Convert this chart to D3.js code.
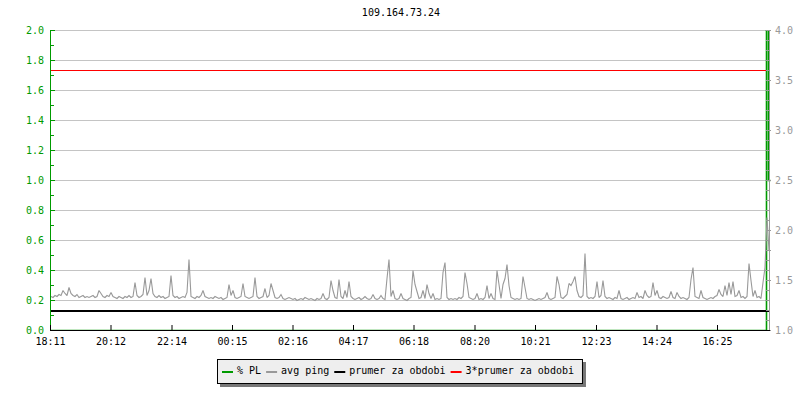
<!DOCTYPE html>
<html><head><meta charset="utf-8">
<script src="https://cdn.jsdelivr.net/npm/d3@7"></script>
<style>
body{margin:0;background:#fff;}
svg{display:block;}
text{font-family:"DejaVu Sans Mono",monospace;font-size:10px;}
</style></head><body>
<svg id="chart" width="800" height="400"></svg>
<script>
const title = "109.164.73.24";
const startTime = "18:11";
const spanMinutes = 1440;
const stepMinutes = 4;
const tickLabels = ["18:11","20:12","22:14","00:15","02:16","04:17","06:18","08:20","10:21","12:23","14:24","16:25"];
const leftTicks = [0.0,0.2,0.4,0.6,0.8,1.0,1.2,1.4,1.6,1.8,2.0];
const leftMinorTicks = [0.1,0.3,0.5,0.7,0.9,1.1,1.3,1.5,1.7,1.9];
const rightTicks = [1.0,1.5,2.0,2.5,3.0,3.5,4.0];
const rightMinorTicks = [1.1,1.2,1.3,1.4,1.5,1.6,1.7,1.8,1.9,2.0,2.1,2.2,2.3,2.4,2.5,2.6,2.7,2.8,2.9,3.0,3.1,3.2,3.3,3.4,3.5,3.6,3.7,3.8,3.9];
const legendLabels = ["% PL","avg ping","prumer za obdobi","3*prumer za obdobi"];

// avg ping (right axis), one value per 4 minutes
const avgPing = [
1.34,1.33,1.35,1.34,1.36,1.35,1.40,1.37,1.35,1.43,
1.37,1.35,1.34,1.36,1.33,1.34,1.35,1.33,1.34,1.33,
1.34,1.35,1.33,1.34,1.40,1.37,1.34,1.33,1.35,1.34,
1.38,1.34,1.33,1.32,1.34,1.33,1.32,1.34,1.33,1.35,
1.33,1.34,1.48,1.35,1.33,1.34,1.36,1.53,1.35,1.40,
1.52,1.37,1.34,1.33,1.35,1.33,1.34,1.32,1.33,1.34,
1.55,1.35,1.33,1.34,1.32,1.33,1.34,1.33,1.38,1.71,
1.34,1.33,1.32,1.34,1.33,1.35,1.40,1.34,1.33,1.32,
1.33,1.32,1.34,1.33,1.32,1.33,1.31,1.32,1.33,1.46,
1.35,1.40,1.33,1.32,1.33,1.34,1.47,1.34,1.33,1.32,
1.33,1.34,1.53,1.34,1.32,1.33,1.34,1.42,1.33,1.35,
1.47,1.40,1.33,1.32,1.33,1.36,1.32,1.31,1.32,1.33,
1.32,1.31,1.32,1.30,1.31,1.32,1.31,1.33,1.32,1.31,
1.32,1.31,1.30,1.32,1.31,1.32,1.37,1.32,1.31,1.33,
1.50,1.40,1.33,1.32,1.51,1.34,1.32,1.40,1.33,1.49,
1.34,1.32,1.31,1.32,1.33,1.31,1.32,1.34,1.32,1.31,
1.32,1.36,1.32,1.31,1.32,1.35,1.32,1.31,1.52,1.71,
1.34,1.40,1.32,1.31,1.32,1.37,1.32,1.31,1.30,1.32,
1.33,1.60,1.46,1.39,1.32,1.33,1.40,1.32,1.46,1.37,
1.32,1.37,1.31,1.32,1.31,1.32,1.58,1.68,1.33,1.31,
1.32,1.31,1.32,1.31,1.33,1.32,1.34,1.58,1.47,1.33,
1.32,1.31,1.32,1.37,1.31,1.32,1.31,1.33,1.45,1.32,
1.37,1.32,1.31,1.60,1.46,1.32,1.46,1.52,1.66,1.45,
1.33,1.32,1.31,1.32,1.31,1.32,1.54,1.43,1.32,1.31,
1.32,1.31,1.30,1.31,1.32,1.31,1.32,1.33,1.38,1.32,
1.31,1.32,1.33,1.54,1.46,1.33,1.32,1.34,1.36,1.47,
1.45,1.49,1.54,1.40,1.34,1.33,1.35,1.77,1.34,1.32,
1.33,1.32,1.34,1.49,1.33,1.35,1.50,1.34,1.32,1.33,
1.32,1.31,1.33,1.32,1.40,1.32,1.31,1.32,1.33,1.31,
1.32,1.33,1.32,1.38,1.33,1.34,1.32,1.40,1.35,1.33,
1.34,1.48,1.35,1.40,1.33,1.32,1.34,1.33,1.32,1.33,
1.39,1.33,1.32,1.38,1.34,1.32,1.33,1.32,1.31,1.33,
1.51,1.63,1.34,1.33,1.32,1.40,1.33,1.32,1.31,1.32,
1.33,1.32,1.34,1.35,1.41,1.36,1.34,1.45,1.35,1.48,
1.36,1.49,1.34,1.35,1.40,1.33,1.34,1.32,1.34,1.67,
1.50,1.34,1.40,1.33,1.34,1.32,1.48,1.63,2.13,1.80
];

// % packet loss (left axis), one value per 4 minutes
const plLoss = [
0,0,0,0,0,0,0,0,0,0,0,0,0,0,0,0,0,0,0,0,0,0,0,0,0,0,0,0,0,0,0,0,0,0,0,0,0,0,0,0,
0,0,0,0,0,0,0,0,0,0,0,0,0,0,0,0,0,0,0,0,0,0,0,0,0,0,0,0,0,0,0,0,0,0,0,0,0,0,0,0,
0,0,0,0,0,0,0,0,0,0,0,0,0,0,0,0,0,0,0,0,0,0,0,0,0,0,0,0,0,0,0,0,0,0,0,0,0,0,0,0,
0,0,0,0,0,0,0,0,0,0,0,0,0,0,0,0,0,0,0,0,0,0,0,0,0,0,0,0,0,0,0,0,0,0,0,0,0,0,0,0,
0,0,0,0,0,0,0,0,0,0,0,0,0,0,0,0,0,0,0,0,0,0,0,0,0,0,0,0,0,0,0,0,0,0,0,0,0,0,0,0,
0,0,0,0,0,0,0,0,0,0,0,0,0,0,0,0,0,0,0,0,0,0,0,0,0,0,0,0,0,0,0,0,0,0,0,0,0,0,0,0,
0,0,0,0,0,0,0,0,0,0,0,0,0,0,0,0,0,0,0,0,0,0,0,0,0,0,0,0,0,0,0,0,0,0,0,0,0,0,0,0,
0,0,0,0,0,0,0,0,0,0,0,0,0,0,0,0,0,0,0,0,0,0,0,0,0,0,0,0,0,0,0,0,0,0,0,0,0,0,0,0,
0,0,0,0,0,0,0,0,0,0,0,0,0,0,0,0,0,0,0,0,0,0,0,0,0,0,0,0,0,0,0,0,0,0,0,0,0,0,2.2,1.0
];

const prumer = 1.2;          // average for the period (right axis)
const triPrumer = 3 * prumer; // 3 * average

const GREEN = "#009a00", GRAY = "#999999", GRID = "#c4c4c4", RED = "#ff0000";

const svg = d3.select("#chart");
const toMin = s => { const [h,m] = s.split(":").map(Number); const [h0,m0] = startTime.split(":").map(Number);
  let v = h*60+m - (h0*60+m0); if (v < 0) v += 1440; return v; };
const tickMinutes = tickLabels.map(toMin);

const x = d3.scaleLinear().domain([0, spanMinutes]).range([50, 770]);
const yL = d3.scaleLinear().domain([0, 2]).range([330, 30]);
const yR = d3.scaleLinear().domain([1, 4]).range([330, 30]);

svg.append("text").attr("x", 401).attr("y", 16).attr("text-anchor", "middle").attr("fill", "#000").text(title);

// grid
svg.append("g").selectAll("line").data(leftTicks.filter(d => d > 0)).join("line")
  .attr("x1", 50).attr("x2", 769).attr("y1", d => yL(d) + 0.5).attr("y2", d => yL(d) + 0.5)
  .attr("stroke", GRID).attr("stroke-width", 1).attr("shape-rendering", "crispEdges");

const defs = svg.append("defs");
defs.append("clipPath").attr("id", "plot").append("rect").attr("x", 50).attr("y", 30).attr("width", 721).attr("height", 300);

const plot = svg.append("g").attr("clip-path", "url(#plot)");
const withEnd = arr => arr.map((v, i) => [i * stepMinutes, v]).concat([[spanMinutes, arr[arr.length - 1]]]);

plot.append("path").datum(withEnd(plLoss))
  .attr("d", d3.line().x(d => x(d[0]) + 0.5).y(d => yL(d[1]) + 0.5).curve(d3.curveStepAfter))
  .attr("fill", "none").attr("stroke", GREEN).attr("stroke-width", 1.6);

plot.append("path").datum(withEnd(avgPing))
  .attr("d", d3.line().x(d => x(d[0]) + 1).y(d => yR(d[1]) + 0.5).curve(d3.curveLinear))
  .attr("fill", "none").attr("stroke", GRAY).attr("stroke-width", 1.1).attr("stroke-linejoin", "miter").attr("stroke-miterlimit", 2);

plot.append("line").attr("x1", x(0)).attr("x2", x(spanMinutes))
  .attr("y1", yR(prumer) + 1).attr("y2", yR(prumer) + 1).attr("stroke", "#000").attr("stroke-width", 2);
plot.append("line").attr("x1", x(0)).attr("x2", x(spanMinutes) - 4)
  .attr("y1", yR(triPrumer) + 0.5).attr("y2", yR(triPrumer) + 0.5).attr("stroke", RED).attr("stroke-width", 1);

// left axis
const gL = svg.append("g").attr("transform", "translate(50,0)");
gL.call(d3.axisLeft(yL).tickValues(leftTicks).tickSize(-5).tickSizeOuter(0).tickPadding(6).tickFormat(d3.format(".1f")));
gL.append("g").call(d3.axisLeft(yL).tickValues(leftMinorTicks).tickSize(-4).tickFormat(""))
  .call(g => g.select(".domain").remove());
gL.selectAll("path,line").attr("stroke", GREEN);
gL.selectAll("text").attr("fill", GREEN).style("font-size", "10px").style("font-family", "DejaVu Sans Mono");
gL.attr("font-size", null).attr("font-family", null);

// right axis
const gR = svg.append("g").attr("transform", "translate(769,0)");
gR.call(d3.axisRight(yR).tickValues(rightTicks).tickSize(2).tickSizeOuter(0).tickPadding(4).tickFormat(d3.format(".1f")));
gR.append("g").call(d3.axisRight(yR).tickValues(rightMinorTicks).tickSize(-3).tickFormat(""))
  .call(g => g.select(".domain").remove());
gR.append("g").call(d3.axisRight(yR).tickValues(rightTicks).tickSize(-3).tickFormat(""))
  .call(g => g.select(".domain").remove());
gR.selectAll("path,line").attr("stroke", GRAY);
gR.selectAll("text").attr("fill", GRAY).style("font-size", "10px").style("font-family", "DejaVu Sans Mono");
gR.attr("font-size", null).attr("font-family", null);

// bottom axis
const gB = svg.append("g").attr("transform", "translate(0,330)");
gB.call(d3.axisBottom(x).tickValues(tickMinutes).tickSize(-5).tickSizeOuter(0).tickPadding(8)
  .tickFormat((d, i) => tickLabels[i]));
gB.select(".domain").attr("d", "M50,0.5H770");
gB.selectAll("path,line").attr("stroke", "#000");
gB.selectAll("text").attr("fill", "#000").style("font-size", "10px").style("font-family", "DejaVu Sans Mono");
gB.attr("font-size", null).attr("font-family", null);

// legend
const legendColors = [GREEN, GRAY, "#000", RED];
const lg = svg.append("g");
const shadow = lg.append("rect").attr("fill", "#777");
const box = lg.append("rect").attr("fill", "#eeeeee").attr("stroke", "#000").attr("stroke-width", 1);
let cx = 222;
legendLabels.forEach((lab, i) => {
  lg.append("line").attr("x1", cx).attr("x2", cx + 11).attr("y1", 372).attr("y2", 372)
    .attr("stroke", legendColors[i]).attr("stroke-width", 2);
  const t = lg.append("text").attr("x", cx + 15).attr("y", 374).attr("fill", "#000").text(lab);
  cx = cx + 15 + t.node().getComputedTextLength() + 5;
});
const bx = 217.5, by = 359.5, bw = (cx + 3.5) - bx, bh = 24;
box.attr("x", bx).attr("y", by).attr("width", bw).attr("height", bh);
shadow.attr("x", bx + 2.5).attr("y", by + 2.5).attr("width", bw + 1).attr("height", bh + 1);
</script>
</body></html>
